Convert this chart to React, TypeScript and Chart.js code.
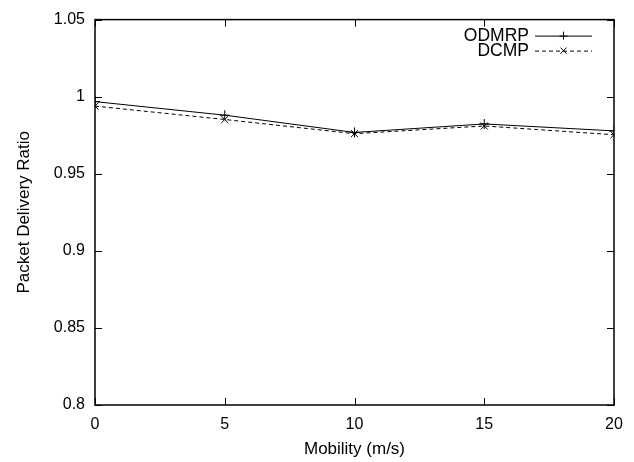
import React, { useEffect, useRef } from "react";
import { Chart, registerables } from "chart.js";

Chart.register(...registerables);

const mobility = [0, 5, 10, 15, 20];
const odmrp = [0.9968, 0.988, 0.9768, 0.9823, 0.9778];
const dcmp = [0.9939, 0.9852, 0.976, 0.981, 0.9753];
const seriesNames = ["ODMRP", "DCMP"];
const xTitle = "Mobility (m/s)";
const yTitle = "Packet Delivery Ratio";

const FONT = "'Liberation Sans', Arial, sans-serif";

const framePlugin = {
  id: "frame",
  afterDraw(chart: any) {
    const { ctx, chartArea: a, scales } = chart;
    const x = scales.x, y = scales.y;
    ctx.save();
    ctx.strokeStyle = "#000";
    ctx.lineWidth = 1.5;
    ctx.strokeRect(a.left, a.top, a.right - a.left, a.bottom - a.top);
    ctx.lineWidth = 1;
    const tl = 7;
    x.ticks.forEach((t: any) => {
      const px = Math.round(x.getPixelForValue(t.value)) + 0.5;
      ctx.beginPath();
      ctx.moveTo(px, a.bottom); ctx.lineTo(px, a.bottom - tl);
      ctx.moveTo(px, a.top); ctx.lineTo(px, a.top + tl);
      ctx.stroke();
    });
    y.ticks.forEach((t: any) => {
      const py = Math.round(y.getPixelForValue(t.value)) + 0.5;
      ctx.beginPath();
      ctx.moveTo(a.left, py); ctx.lineTo(a.left + tl, py);
      ctx.moveTo(a.right, py); ctx.lineTo(a.right - tl, py);
      ctx.stroke();
    });
    // legend
    ctx.font = `17.5px ${FONT}`;
    ctx.fillStyle = "#000";
    ctx.textAlign = "right";
    ctx.textBaseline = "middle";
    chart.data.datasets.forEach((ds: any, i: number) => {
      const ly = a.top + 16 + i * 15;
      const textRight = a.right - 85;
      ctx.fillText(ds.label, textRight, ly + 1);
      const x0 = a.right - 79, x1 = a.right - 22;
      ctx.beginPath();
      ctx.setLineDash(ds.borderDash || []);
      ctx.lineWidth = 1;
      ctx.moveTo(x0, ly + 0.5); ctx.lineTo(x1, ly + 0.5);
      ctx.stroke();
      ctx.setLineDash([]);
      const cx = (x0 + x1) / 2, r = 4;
      ctx.beginPath();
      if (ds.pointStyle === "cross") {
        ctx.moveTo(cx - r, ly + 0.5); ctx.lineTo(cx + r, ly + 0.5);
        ctx.moveTo(cx, ly - r); ctx.lineTo(cx, ly + r);
      } else {
        const d = r * 0.75;
        ctx.moveTo(cx - d, ly - d); ctx.lineTo(cx + d, ly + d);
        ctx.moveTo(cx - d, ly + d); ctx.lineTo(cx + d, ly - d);
      }
      ctx.stroke();
    });
    ctx.restore();
  },
};

export default function App() {
  const ref = useRef<HTMLCanvasElement>(null);
  useEffect(() => {
    document.body.style.margin = "0";
    const chart = new Chart(ref.current!, {
      type: "line",
      data: {
        datasets: [
          {
            label: seriesNames[0],
            data: mobility.map((m, i) => ({ x: m, y: odmrp[i] })),
            borderColor: "#000",
            backgroundColor: "#000",
            borderWidth: 1,
            pointStyle: "cross",
            pointRadius: 5,
            pointBorderWidth: 1,
            fill: false,
            tension: 0,
          },
          {
            label: seriesNames[1],
            data: mobility.map((m, i) => ({ x: m, y: dcmp[i] })),
            borderColor: "#000",
            backgroundColor: "#000",
            borderWidth: 1,
            borderDash: [4, 3],
            pointStyle: "crossRot",
            pointRadius: 5,
            pointBorderWidth: 1,
            fill: false,
            tension: 0,
          },
        ],
      },
      options: {
        animation: false,
        responsive: false,
        devicePixelRatio: 1,
        layout: { padding: { left: 14, top: 17, right: 20, bottom: 0 } },
        plugins: { legend: { display: false }, tooltip: { enabled: false } },
        scales: {
          x: {
            type: "linear",
            min: 0,
            max: 20,
            grid: { display: false, drawTicks: false },
            border: { display: false },
            ticks: {
              stepSize: 5,
              padding: 10,
              color: "#000",
              font: { family: FONT, size: 16 },
              maxRotation: 0,
            },
            title: {
              display: true,
              text: xTitle,
              color: "#000",
              font: { family: FONT, size: 17, lineHeight: 1.5 },
              padding: { top: 0, bottom: 0 },
            },
            afterFit(scale: any) { scale.height = 57; },
          },
          y: {
            type: "linear",
            min: 0.8,
            max: 1.05,
            grid: { display: false, drawTicks: false },
            border: { display: false },
            ticks: {
              stepSize: 0.05,
              padding: 10,
              color: "#000",
              font: { family: FONT, size: 16 },
              callback: (v: any) => String(Number(Number(v).toFixed(2))),
            },
            title: {
              display: true,
              text: yTitle,
              color: "#000",
              font: { family: FONT, size: 17 },
              padding: { top: 0, bottom: 0 },
            },
            afterFit(scale: any) { scale.width = 81; },
          },
        },
      },
      plugins: [framePlugin],
    } as any);
    return () => chart.destroy();
  }, []);
  return <canvas ref={ref} width={634} height={462} style={{ display: "block" }} />;
}
